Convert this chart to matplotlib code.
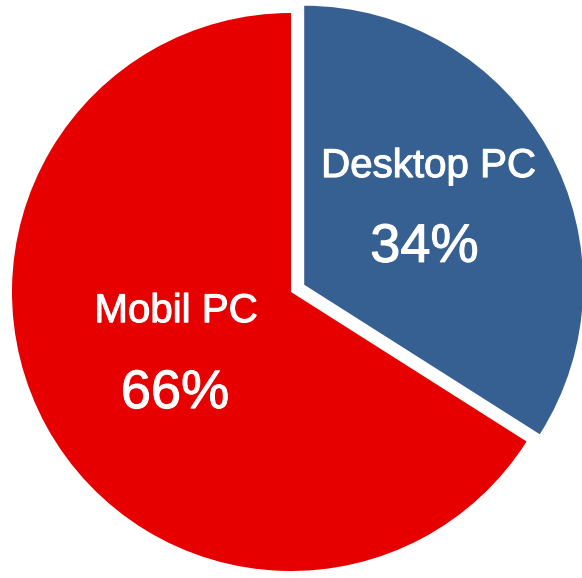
import matplotlib
matplotlib.use("Agg")
import matplotlib.pyplot as plt
import matplotlib.patheffects as pe

categories = ["Desktop PC", "Mobil PC"]
values = [34, 66]
pct_labels = ["34%", "66%"]
colors = ["#376092", "#E60000"]
explode = [0.054, 0.0]

plt.rcParams['font.family'] = ['Liberation Sans', 'DejaVu Sans']

fig = plt.figure(figsize=(5.82, 5.78), dpi=100)
ax = fig.add_axes([0, 0, 1, 1])
ax.pie(values, colors=colors, explode=explode, startangle=90,
       counterclock=False, radius=1.0,
       wedgeprops=dict(linewidth=0))
ax.set_aspect('auto')
ax.set_xlim(-291 / 279, (582 - 291) / 279)
ax.set_ylim(-(578 - 292) / 279, 292 / 279)
ax.axis('off')

stroke = [pe.withStroke(linewidth=0.8, foreground="white")]
name_pos = [(0.493, 0.412), (-0.412, -0.108)]
pct_pos = [(0.478, 0.108), (-0.416, -0.416)]
for name, pct, (nx, ny), (px, py) in zip(categories, pct_labels, name_pos, pct_pos):
    ax.text(nx, ny, name, color="white", fontsize=29, ha="center", va="baseline",
            path_effects=stroke)
    ax.text(px, py, pct, color="white", fontsize=39, ha="center", va="baseline",
            path_effects=stroke)

fig.savefig("out.png", dpi=100)
